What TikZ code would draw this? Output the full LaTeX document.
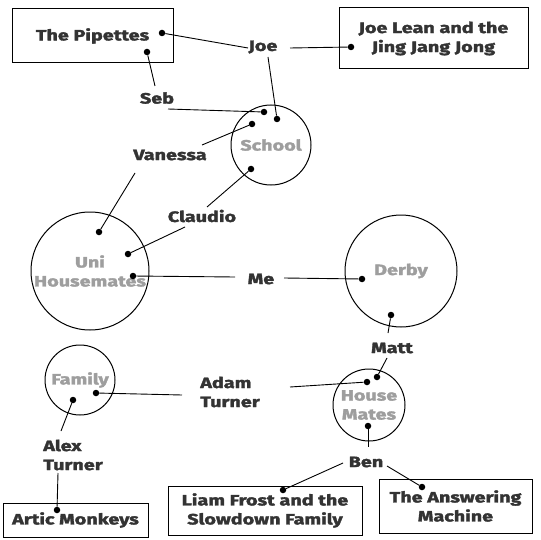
\documentclass[tikz,border=0pt]{standalone}
\usepackage{fontspec}
\setmainfont{Fira Sans}[BoldFeatures={FakeStretch=1.32,FakeBold=2.2}]
\definecolor{labelc}{HTML}{333333}
\definecolor{grayc}{HTML}{9E9E9E}
\tikzset{
  lbl/.style={text=labelc, font=\fontsize{15}{19}\selectfont\bfseries, align=center, inner sep=0pt},
  lbll/.style={lbl, align=left},
  grp/.style={circle, draw=black, line width=1pt, text=grayc, font=\fontsize{15}{19}\selectfont\bfseries, align=center, inner sep=0pt},
  boxn/.style={draw=black, line width=1pt, text=labelc, font=\fontsize{15}{19}\selectfont\bfseries, align=center, inner sep=0pt},
  dotn/.style={circle, fill=black, minimum size=6.5pt, inner sep=0pt},
  conn/.style={line width=0.9pt, draw=black}
}
\begin{document}
\begin{tikzpicture}[x=1pt, y=-1pt]
\useasboundingbox (0,0) rectangle (540,540);
% boxes
\node[boxn, minimum width=161pt, minimum height=54pt] (pip) at (92.5,36) {The Pipettes};
\node[boxn, minimum width=189pt, minimum height=61pt] (jl) at (433.5,38.5) {Joe Lean and the\\Jing Jang Jong};
\node[boxn, minimum width=153pt, minimum height=54pt] (am) at (455.5,506) {The Answering\\Machine};
\node[boxn, minimum width=194pt, minimum height=49pt] (lf) at (265,510.5) {Liam Frost and the\\Slowdown Family};
\node[boxn, minimum width=145pt, minimum height=34pt] (ak) at (75.5,520) {Artic Monkeys};
% circles
\node[grp, minimum size=80pt] (school) at (271,145) {School};
\node[grp, minimum size=118pt] (uni) at (90,271) {Uni\\Housemates};
\node[grp, minimum size=112pt] (derby) at (401,271) {Derby};
\node[grp, minimum size=72pt] (hm) at (369,405) {House\\Mates};
\node[grp, minimum size=70pt] (fam) at (80,380) {Family};
% labels
\node[lbl] (joe) at (263,47) {Joe};
\node[lbl] (seb) at (157,98) {Seb};
\node[lbl] (van) at (170,155) {Vanessa};
\node[lbl] (cla) at (202,216) {Claudio};
\node[lbl] (me) at (261,279) {Me};
\node[lbl] (matt) at (392,348) {Matt};
\node[lbll] (adam) at (230,392) {Adam\\Turner};
\node[lbll] (alex) at (73,455) {Alex\\Turner};
\node[lbl] (ben) at (366,462) {Ben};
% dots
\node[dotn] (d1) at (162,33) {};
\node[dotn] (d2) at (147,52) {};
\node[dotn] (d3) at (351,47) {};
\node[dotn] (d4) at (277,119) {};
\node[dotn] (d5) at (264,112) {};
\node[dotn] (d6) at (252,124) {};
\node[dotn] (d7) at (251,169) {};
\node[dotn] (d8) at (99,232) {};
\node[dotn] (d9) at (128,254) {};
\node[dotn] (d10) at (133,276) {};
\node[dotn] (d11) at (362,279) {};
\node[dotn] (d12) at (391,315) {};
\node[dotn] (d13) at (377,377) {};
\node[dotn] (d14) at (367,382) {};
\node[dotn] (d15) at (368,426) {};
\node[dotn] (d16) at (283,490) {};
\node[dotn] (d17) at (422,487) {};
\node[dotn] (d18) at (96,393) {};
\node[dotn] (d19) at (73,400) {};
\node[dotn] (d20) at (57,510) {};
% free ends
\coordinate (e1) at (248,48);
\coordinate (e2) at (155,86);
\coordinate (e3) at (290,48);
\coordinate (e4) at (268,57);
\coordinate (e5) at (168,109);
\coordinate (e6) at (202,145);
\coordinate (e7) at (207,207);
\coordinate (e8) at (135,173);
\coordinate (e9) at (185,227);
\coordinate (e10) at (235,277);
\coordinate (e11) at (284,278);
\coordinate (e12) at (388,333);
\coordinate (e13) at (387,358);
\coordinate (e14) at (290,387);
\coordinate (e15) at (368,447);
\coordinate (e16) at (343,463);
\coordinate (e17) at (387,466);
\coordinate (e18) at (182,395);
\coordinate (e19) at (61,431);
\coordinate (e20) at (58,473);
% connectors
\draw[conn] (d1) -- (e1);
\draw[conn] (d2) -- (e2);
\draw[conn] (e3) -- (d3);
\draw[conn] (e4) -- (d4);
\draw[conn] (e5) -- (d5);
\draw[conn] (e6) -- (d6);
\draw[conn] (e7) -- (d7);
\draw[conn] (e8) -- (d8);
\draw[conn] (e9) -- (d9);
\draw[conn] (d10) -- (e10);
\draw[conn] (e11) -- (d11);
\draw[conn] (d12) -- (e12);
\draw[conn] (e13) -- (d13);
\draw[conn] (e14) -- (d14);
\draw[conn] (d15) -- (e15);
\draw[conn] (e16) -- (d16);
\draw[conn] (e17) -- (d17);
\draw[conn] (d18) -- (e18);
\draw[conn] (d19) -- (e19);
\draw[conn] (e20) -- (d20);
\end{tikzpicture}
\end{document}
